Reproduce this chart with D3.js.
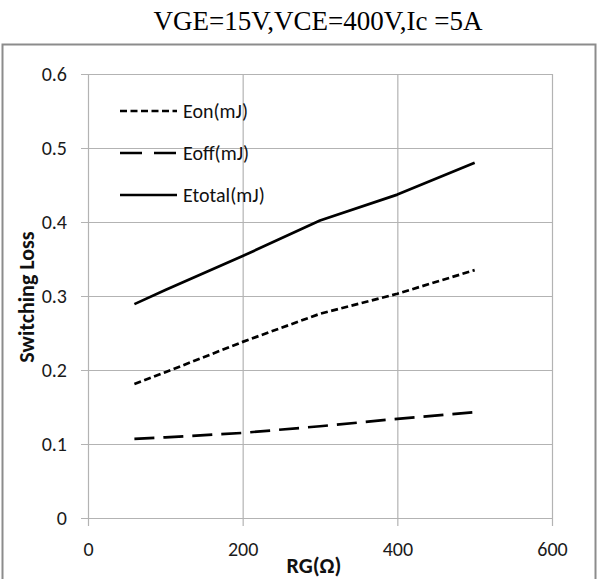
<!DOCTYPE html>
<html>
<head>
<meta charset="utf-8">
<script src="https://cdn.jsdelivr.net/npm/d3@7/dist/d3.min.js"></script>
<style>
  html, body { margin: 0; padding: 0; background: #fff; }
  svg { display: block; }
</style>
</head>
<body>
<svg id="chart" width="597" height="579"></svg>
<script>
// Gate resistance (Ω) at which switching losses were measured
const rg = [60, 100, 200, 300, 400, 500];
// Switching energies (mJ)
const eon    = [0.181, 0.197, 0.238, 0.276, 0.303, 0.335];
const eoff   = [0.107, 0.109, 0.115, 0.124, 0.134, 0.143];
const etotal = [0.289, 0.308, 0.354, 0.402, 0.437, 0.480];

const seriesNames = ["Eon(mJ)", "Eoff(mJ)", "Etotal(mJ)"];
const seriesValues = [eon, eoff, etotal];
const seriesDash = ["7,3.5", "20,9", null];

const xTicks = [0, 200, 400, 600];
const yTicks = [0, 0.1, 0.2, 0.3, 0.4, 0.5, 0.6];

const titleText = "VGE=15V,VCE=400V,Ic =5A";
const xTitle = "RG(Ω)";
const yTitle = "Switching Loss";

const sansFont = "Carlito, Lato, 'Liberation Sans', sans-serif";

const svg = d3.select("#chart");

// Outer chart frame
svg.append("rect")
  .attr("x", 2.5).attr("y", 44.5)
  .attr("width", 593).attr("height", 560)
  .attr("fill", "none")
  .attr("stroke", "#8c8c8c")
  .attr("stroke-width", 2);

// Title above the frame
svg.append("text")
  .attr("x", 318).attr("y", 30)
  .attr("text-anchor", "middle")
  .attr("font-family", "'Liberation Serif', 'Times New Roman', serif")
  .attr("font-size", 27)
  .attr("fill", "#000")
  .text(titleText);

const x = d3.scaleLinear().domain([0, 600]).range([88, 552]);
const y = d3.scaleLinear().domain([0, 0.6]).range([518, 74]);

const gridColor = "#b3b3b3";

// Horizontal gridlines with left tick marks
const yAxis = d3.axisLeft(y)
  .tickValues(yTicks)
  .tickSize(-(552 - 88))
  .tickFormat(d => d === 0 ? "0" : d3.format(".1f")(d));

const gy = svg.append("g")
  .attr("transform", "translate(88,0)")
  .call(yAxis);
gy.select(".domain").remove();
gy.selectAll(".tick line")
  .attr("x1", -7)
  .attr("stroke", gridColor)
  .attr("stroke-width", 1.2);
gy.selectAll(".tick text")
  .attr("x", -21)
  .attr("font-family", sansFont)
  .attr("font-size", 20)
  .attr("fill", "#1a1a1a");

// Vertical gridlines with bottom tick marks
const xAxis = d3.axisBottom(x)
  .tickValues(xTicks)
  .tickSize(-(518 - 74))
  .tickFormat(d3.format("d"));

const gx = svg.append("g")
  .attr("transform", "translate(0,518)")
  .call(xAxis);
gx.select(".domain").remove();
gx.selectAll(".tick line")
  .attr("y1", 8)
  .attr("stroke", gridColor)
  .attr("stroke-width", 1.2);
gx.selectAll(".tick text")
  .attr("y", 24)
  .attr("dy", "0.71em")
  .attr("font-family", sansFont)
  .attr("font-size", 20)
  .attr("fill", "#1a1a1a");

// Axis titles
svg.append("text")
  .attr("x", 314).attr("y", 573)
  .attr("text-anchor", "middle")
  .attr("font-family", sansFont)
  .attr("font-weight", "bold")
  .attr("font-size", 22)
  .attr("fill", "#111")
  .text(xTitle);

svg.append("text")
  .attr("transform", "translate(34,297) rotate(-90)")
  .attr("text-anchor", "middle")
  .attr("font-family", sansFont)
  .attr("font-weight", "bold")
  .attr("font-size", 22)
  .attr("fill", "#111")
  .text(yTitle);

// Series lines
const line = d3.line()
  .x((d, i) => x(rg[i]))
  .y(d => y(d));

seriesValues.forEach((vals, k) => {
  svg.append("path")
    .datum(vals)
    .attr("d", line)
    .attr("fill", "none")
    .attr("stroke", "#000")
    .attr("stroke-width", 2.7)
    .attr("stroke-dasharray", seriesDash[k])
    .attr("stroke-linejoin", "round");
});

// Legend
const legendY = [111, 153, 195];
seriesNames.forEach((name, k) => {
  svg.append("line")
    .attr("x1", 120).attr("x2", 177)
    .attr("y1", legendY[k]).attr("y2", legendY[k])
    .attr("stroke", "#000")
    .attr("stroke-width", 2.7)
    .attr("stroke-dasharray", k === 1 ? "22,12" : seriesDash[k]);
  svg.append("text")
    .attr("x", 183).attr("y", legendY[k])
    .attr("dy", "0.36em")
    .attr("font-family", sansFont)
    .attr("font-size", 20)
    .attr("fill", "#111")
    .text(name);
});
</script>
</body>
</html>
